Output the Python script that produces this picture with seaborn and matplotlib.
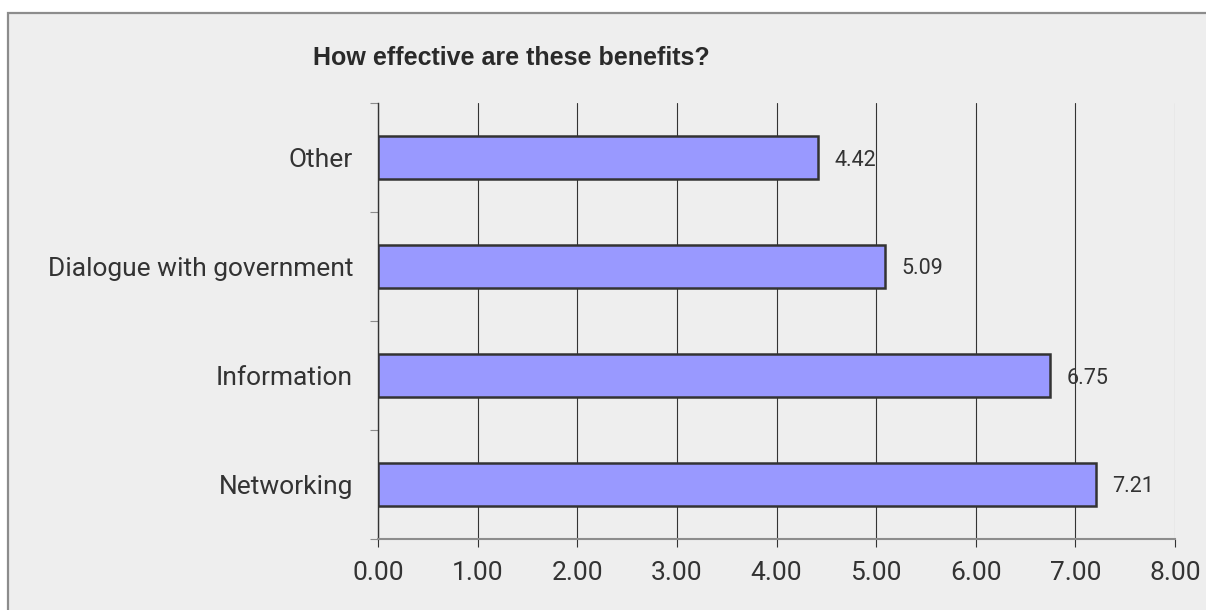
import matplotlib
matplotlib.use("Agg")
import matplotlib.pyplot as plt
from matplotlib.patches import Rectangle
from matplotlib.ticker import FixedLocator
import seaborn as sns
import pandas as pd

categories = ["Other", "Dialogue with government", "Information", "Networking"]
scores = [4.42, 5.09, 6.75, 7.21]
x_ticks = [0, 1, 2, 3, 4, 5, 6, 7, 8]
title = "How effective are these benefits?"

df = pd.DataFrame({"benefit": categories, "score": scores})

sns.set_theme(style="white")
plt.rcParams["font.family"] = ["Roboto", "DejaVu Sans"]
text_color = "#333333"

fig = plt.figure(figsize=(12.06, 6.10), dpi=100, facecolor="white")

# framed panel background
W, H = 1206, 610
fig.patches.append(Rectangle((8 / W, -0.1), 1.2, (H - 13) / H + 0.1,
                             transform=fig.transFigure, facecolor="#EEEEEE",
                             edgecolor="#8C8C8C", linewidth=1.6, zorder=-5))

ax = fig.add_axes([378 / W, (H - 539) / H, (1175 - 378) / W, (539 - 103) / H])
ax.set_zorder(2)
ax.set_facecolor("none")

sns.barplot(data=df, x="score", y="benefit", order=categories, orient="h",
            color="#9999FF", saturation=1, width=0.4,
            edgecolor="#333333", linewidth=1.8, ax=ax, zorder=3)

ax.set_xlim(0, 8)
ax.set_ylim(3.5, -0.5)
ax.set_xticks(x_ticks)
ax.set_xticklabels([f"{v:.2f}" for v in x_ticks])
ax.set_xlabel("")
ax.set_ylabel("")

# vertical gridlines
ax.grid(axis="x", color="#333333", linewidth=0.8, zorder=1)
ax.set_axisbelow(True)
ax.get_xgridlines()[-1].set_color("#8C8C8C")

for s in ["top", "right"]:
    ax.spines[s].set_visible(False)
ax.spines["left"].set_color("#333333")
ax.spines["left"].set_linewidth(1.0)
ax.spines["bottom"].set_color("#8C8C8C")
ax.spines["bottom"].set_linewidth(1.5)

ax.tick_params(axis="x", which="major", direction="out", length=6,
               width=0.8, color="#333333", labelsize=19,
               labelcolor=text_color, pad=10, bottom=True)
ax.tick_params(axis="y", which="major", length=0, labelsize=19,
               labelcolor=text_color, pad=18)
ax.yaxis.set_minor_locator(FixedLocator([-0.5, 0.5, 1.5, 2.5, 3.5]))
ax.tick_params(axis="y", which="minor", direction="out", length=6,
               width=0.8, color="#8C8C8C", left=True)

for container in ax.containers:
    labels = ax.bar_label(container, fmt="%.2f", padding=11.5, fontsize=15.5,
                          color=text_color)
    for t in labels:
        t.set_va("center_baseline")

fig.text(313 / W, (H - 58) / H, title, fontsize=18, fontweight="bold",
         family=["Liberation Sans", "DejaVu Sans"],
         color="#2A2A2A", ha="left", va="center")

fig.savefig("out.png", dpi=100, facecolor="white")
